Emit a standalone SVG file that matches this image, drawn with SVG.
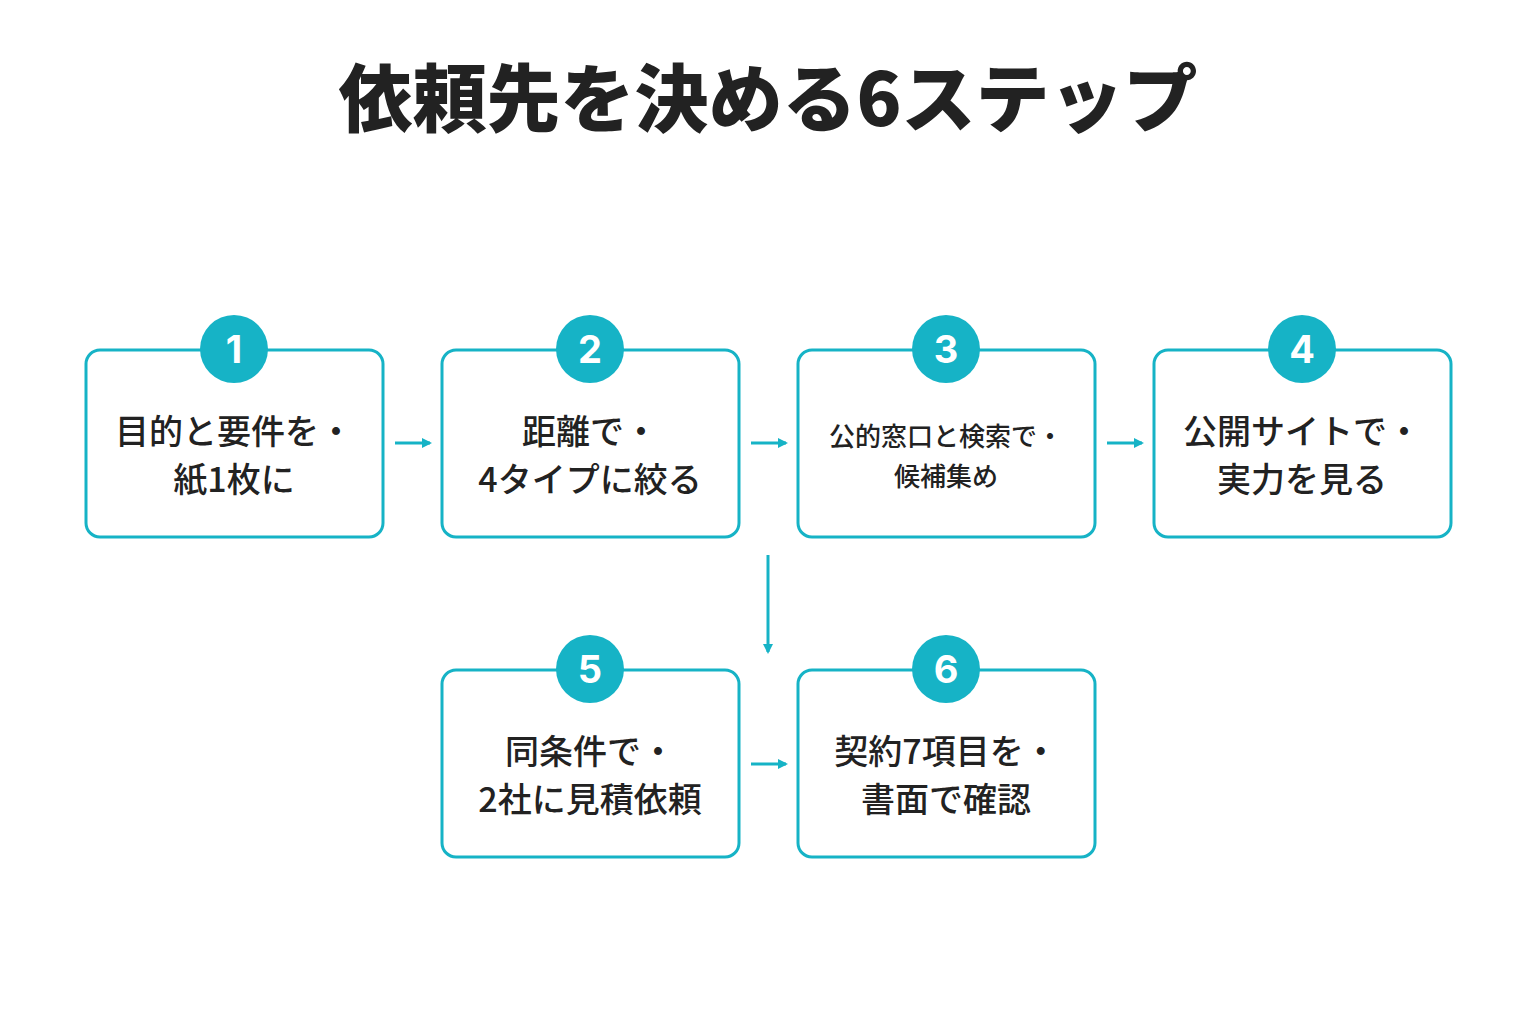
<svg xmlns="http://www.w3.org/2000/svg" width="1536" height="1024" viewBox="0 0 1536 1024">
<style>
.box{fill:#fff;stroke:#16b3c6;stroke-width:3}
.num{fill:#16b3c6}
.nt{fill:#fff;font-family:"Inter","Liberation Sans",sans-serif;font-weight:700;font-size:38px;text-anchor:middle}
.t{fill:#222;font-family:"Noto Sans CJK JP",sans-serif;font-weight:500;font-size:34px;text-anchor:middle}
.ts{font-size:26px}
.c{stroke:#16b3c6;stroke-width:3;fill:none}
</style>
<defs><marker id="a" markerWidth="10" markerHeight="10" refX="8" refY="5" orient="auto" markerUnits="userSpaceOnUse" viewBox="0 0 10 10"><path d="M0,0L10,5L0,10Z" fill="#16b3c6"/></marker></defs>
<rect width="1536" height="1024" fill="#fff"/>
<text x="768" y="126" font-family="Noto Sans CJK JP,sans-serif" font-weight="900" font-size="74" text-anchor="middle" fill="#222">依頼先を決める6ステップ</text>
<g id="connectors">
<line class="c" x1="395" y1="443" x2="430" y2="443" marker-end="url(#a)"/>
<line class="c" x1="751" y1="443" x2="786" y2="443" marker-end="url(#a)"/>
<line class="c" x1="1107" y1="443" x2="1142" y2="443" marker-end="url(#a)"/>
<line class="c" x1="768" y1="555" x2="768" y2="652" marker-end="url(#a)"/>
<line class="c" x1="751" y1="764" x2="786" y2="764" marker-end="url(#a)"/>
</g>
<g id="n1"><rect class="box" x="86" y="350" width="297" height="187" rx="14"/><circle class="num" cx="234" cy="349" r="34"/><text class="nt" x="234" y="363">1</text><text class="t" x="234" y="444">目的と要件を・</text><text class="t" x="234" y="492">紙1枚に</text></g>
<g id="n2"><rect class="box" x="442" y="350" width="297" height="187" rx="14"/><circle class="num" cx="590" cy="349" r="34"/><text class="nt" x="590" y="363">2</text><text class="t" x="590" y="444">距離で・</text><text class="t" x="590" y="492">4タイプに絞る</text></g>
<g id="n3"><rect class="box" x="798" y="350" width="297" height="187" rx="14"/><circle class="num" cx="946" cy="349" r="34"/><text class="nt" x="946" y="363">3</text><text class="t ts" x="946" y="446">公的窓口と検索で・</text><text class="t ts" x="946" y="486">候補集め</text></g>
<g id="n4"><rect class="box" x="1154" y="350" width="297" height="187" rx="14"/><circle class="num" cx="1302" cy="349" r="34"/><text class="nt" x="1302" y="363">4</text><text class="t" x="1302" y="444">公開サイトで・</text><text class="t" x="1302" y="492">実力を見る</text></g>
<g id="n5"><rect class="box" x="442" y="670" width="297" height="187" rx="14"/><circle class="num" cx="590" cy="669" r="34"/><text class="nt" x="590" y="683">5</text><text class="t" x="590" y="764">同条件で・</text><text class="t" x="590" y="812">2社に見積依頼</text></g>
<g id="n6"><rect class="box" x="798" y="670" width="297" height="187" rx="14"/><circle class="num" cx="946" cy="669" r="34"/><text class="nt" x="946" y="683">6</text><text class="t" x="946" y="764">契約7項目を・</text><text class="t" x="946" y="812">書面で確認</text></g>
</svg>
